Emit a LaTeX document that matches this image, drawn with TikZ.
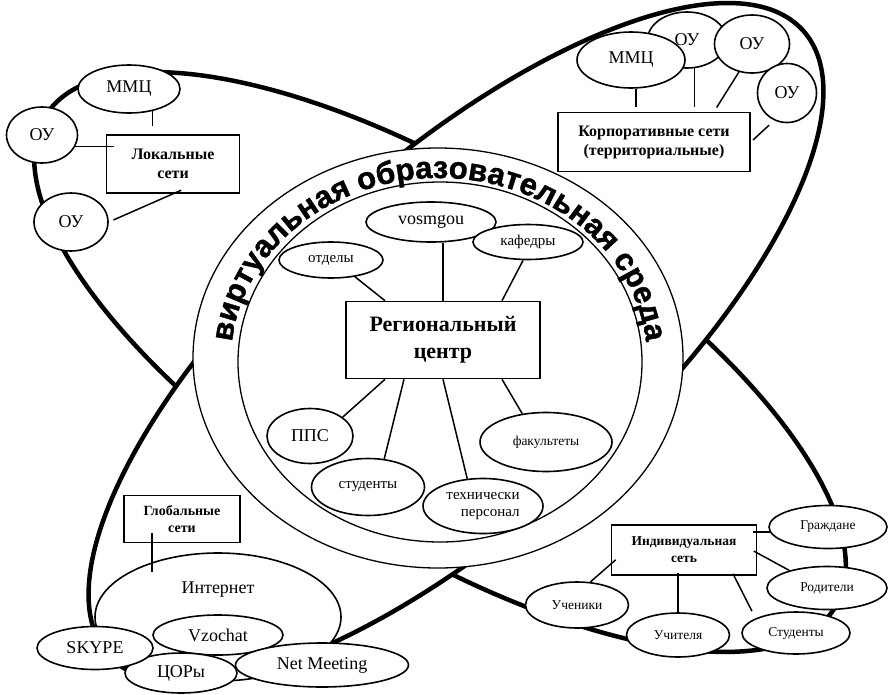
\documentclass[tikz,border=0pt]{standalone}
\usepackage{fontspec}
\setmainfont{Liberation Serif}
\newfontfamily\arcfont{Liberation Sans Bold}[FakeBold=1.4]
\usetikzlibrary{shapes.geometric, decorations.text}

\begin{document}
\begin{tikzpicture}[x=1pt, y=-1pt,
    every node/.style={font=\fontsize{18}{20}\selectfont},
    orbit/.style={line width=4.5pt},
    oval/.style={ellipse, draw, fill=white, line width=1.6pt, inner sep=0pt},
    netbox/.style={draw, fill=white, line width=1.6pt, inner sep=0pt, align=center,
      font=\bfseries\fontsize{16}{19}\selectfont},
    link/.style={line width=1.5pt},
    mid/.style={font=\fontsize{15}{17}\selectfont},
    small/.style={font=\fontsize{13.5}{16}\selectfont}]
  \def\ringx{439}
  \def\ringy{360}
  \useasboundingbox (0,0) rectangle (889,694);
  % the two crossing orbits, the second one hides the inside of the first
  \draw[orbit, rotate around={-32:(440,362)}] (440,362) ellipse [x radius=465, y radius=180];
  \draw[orbit, fill=white, rotate around={42:(456,343)}] (456,343) ellipse [x radius=467, y radius=180];
  % ring with the title along it
  \draw[line width=1.3pt, fill=white] (438,358) ellipse [x radius=245, y radius=210];
  \draw[line width=1.3pt] (440,362) ellipse [x radius=202, y radius=180];
  \path[decorate, decoration={text along path, text align=center,
      text={|\arcfont\fontsize{31}{31}\selectfont|виртуальная образовательная среда}}]
    (\ringx,\ringy) ++(-180:208 and 182) arc [start angle=-180, end angle=0, x radius=208, y radius=182];

  % centre
  \node[netbox, minimum width=194pt, minimum height=77pt,
        font=\bfseries\fontsize{22}{27}\selectfont] (centre) at (443,340) {Региональный\\центр};
  \node[oval, minimum width=130pt, minimum height=40pt] (vos) at (431,222) {vosmgou};
  \node[oval, mid, minimum width=104pt, minimum height=36pt] (otd) at (331,260) {отделы};
  \node[oval, mid, minimum width=110pt, minimum height=35pt] (kaf) at (528,242) {кафедры};
  \node[oval, minimum width=86pt, minimum height=55pt] (pps) at (310,436) {ППС};
  \node[oval, mid, minimum width=113pt, minimum height=57pt] (stud) at (368,487) {студенты};
  \node[oval, mid, align=right, minimum width=120pt, minimum height=55pt] (tech) at (483,506) {технически\\персонал};
  \node[oval, small, minimum width=132pt, minimum height=59pt] (fak) at (546,442) {факультеты};
  \draw[link] (otd.-35) -- ([xshift=-58pt]centre.north);
  \draw[link] (vos.south -| centre) -- (centre.north);
  \draw[link] (kaf.-105) -- ([xshift=59pt]centre.north);
  \draw[link] ([xshift=-58pt]centre.south) -- (pps.30);
  \draw[link] ([xshift=-39pt]centre.south) -- (stud.60);
  \draw[link] (centre.south) -- (tech.120);
  \draw[link] ([xshift=59pt]centre.south) -- (fak.130);

  % local networks
  \node[netbox, minimum width=133pt, minimum height=58pt] (loc) at (173,164) {Локальные\\сети};
  \node[oval, minimum width=102pt, minimum height=48pt] (mmcL) at (129,89) {ММЦ};
  \node[oval, minimum width=71pt, minimum height=56pt] (ouL1) at (42,135) {ОУ};
  \node[oval, minimum width=74pt, minimum height=58pt] (ouL2) at (71,222) {ОУ};
  \draw[link, shorten >=8pt] (mmcL.-43) -- (mmcL.-43 |- loc.north);
  \draw[link, shorten >=-8pt] (ouL1.-19) -- (ouL1.-19 -| loc.west);
  \draw[link, shorten <=5pt, shorten >=-9pt] (ouL2.east) -- (loc.south);

  % corporate networks
  \node[netbox, minimum width=192pt, minimum height=59pt] (corp) at (654,142) {Корпоративные сети\\(территориальные)};
  \node[oval, minimum width=79pt, minimum height=56pt] (ouR1) at (687,40) {ОУ};
  \node[oval, minimum width=108pt, minimum height=56pt] (mmcR) at (631,60) {ММЦ};
  \node[oval, minimum width=75pt, minimum height=58pt] (ouR2) at (752,44) {ОУ};
  \node[oval, minimum width=59pt, minimum height=59pt] (ouR3) at (787,93) {ОУ};
  \draw[link, shorten >=5pt] (mmcR.-80) -- (mmcR.-80 |- corp.north);
  \draw[link, shorten >=5pt] (ouR1.-75) -- (ouR1.-75 |- corp.north);
  \draw[link, shorten >=5pt] (ouR2.-115) -- ([xshift=60pt]corp.north);
  \draw[link, shorten <=7pt, shorten >=3pt] (ouR3.-115) -- (corp.east);

  % global networks
  \node[netbox, font=\bfseries\fontsize{14}{17}\selectfont, minimum width=116pt, minimum height=47pt] (glob) at (182,519) {Глобальные\\сети};
  \node[oval, minimum width=246pt, minimum height=128pt,
        label={[yshift=27pt]center:Интернет}] (inet) at (218,617) {};
  \node[oval, minimum width=130pt, minimum height=40pt] (vzo) at (218,635) {Vzochat};
  \node[oval, minimum width=112pt, minimum height=40pt] (cor) at (181,673) {ЦОРы};
  \node[oval, minimum width=116pt, minimum height=43pt] (skype) at (95,648) {SKYPE};
  \node[oval, minimum width=173pt, minimum height=44pt] (nm) at (322,665) {Net Meeting};
  \draw[link] ([xshift=-30pt, yshift=-14pt]glob.center) -- ([xshift=-66pt, yshift=-20pt]inet.north);

  % individual network
  \node[netbox, font=\bfseries\fontsize{13.5}{17}\selectfont, minimum width=145pt, minimum height=50pt] (ind) at (684,550) {Индивидуальная\\сеть};
  \node[oval, small, minimum width=118pt, minimum height=43pt] (grazh) at (828,527) {Граждане};
  \node[oval, small, minimum width=120pt, minimum height=43pt] (rod) at (827,588) {Родители};
  \node[oval, small, minimum width=103pt, minimum height=46pt] (uchen) at (577,605) {Ученики};
  \node[oval, small, minimum width=103pt, minimum height=44pt] (uchit) at (678,635) {Учителя};
  \node[oval, small, minimum width=108pt, minimum height=42pt] (stud2) at (796,633) {Студенты};
  \draw[link, shorten >=-4pt] (grazh.185) -- (grazh.185 -| ind.east);
  \draw[link, shorten >=-4pt] (rod.155) -- ([yshift=-3pt]ind.east);
  \draw[link] (uchen.60) -- ([xshift=5pt, yshift=16pt]ind.south west);
  \draw[link, shorten >=-3pt] (uchit.north) -- (uchit.north |- ind.south);
  \draw[link, shorten <=8pt] (stud2.160) -- ([xshift=49pt, yshift=2pt]ind.south);
\end{tikzpicture}
\end{document}
